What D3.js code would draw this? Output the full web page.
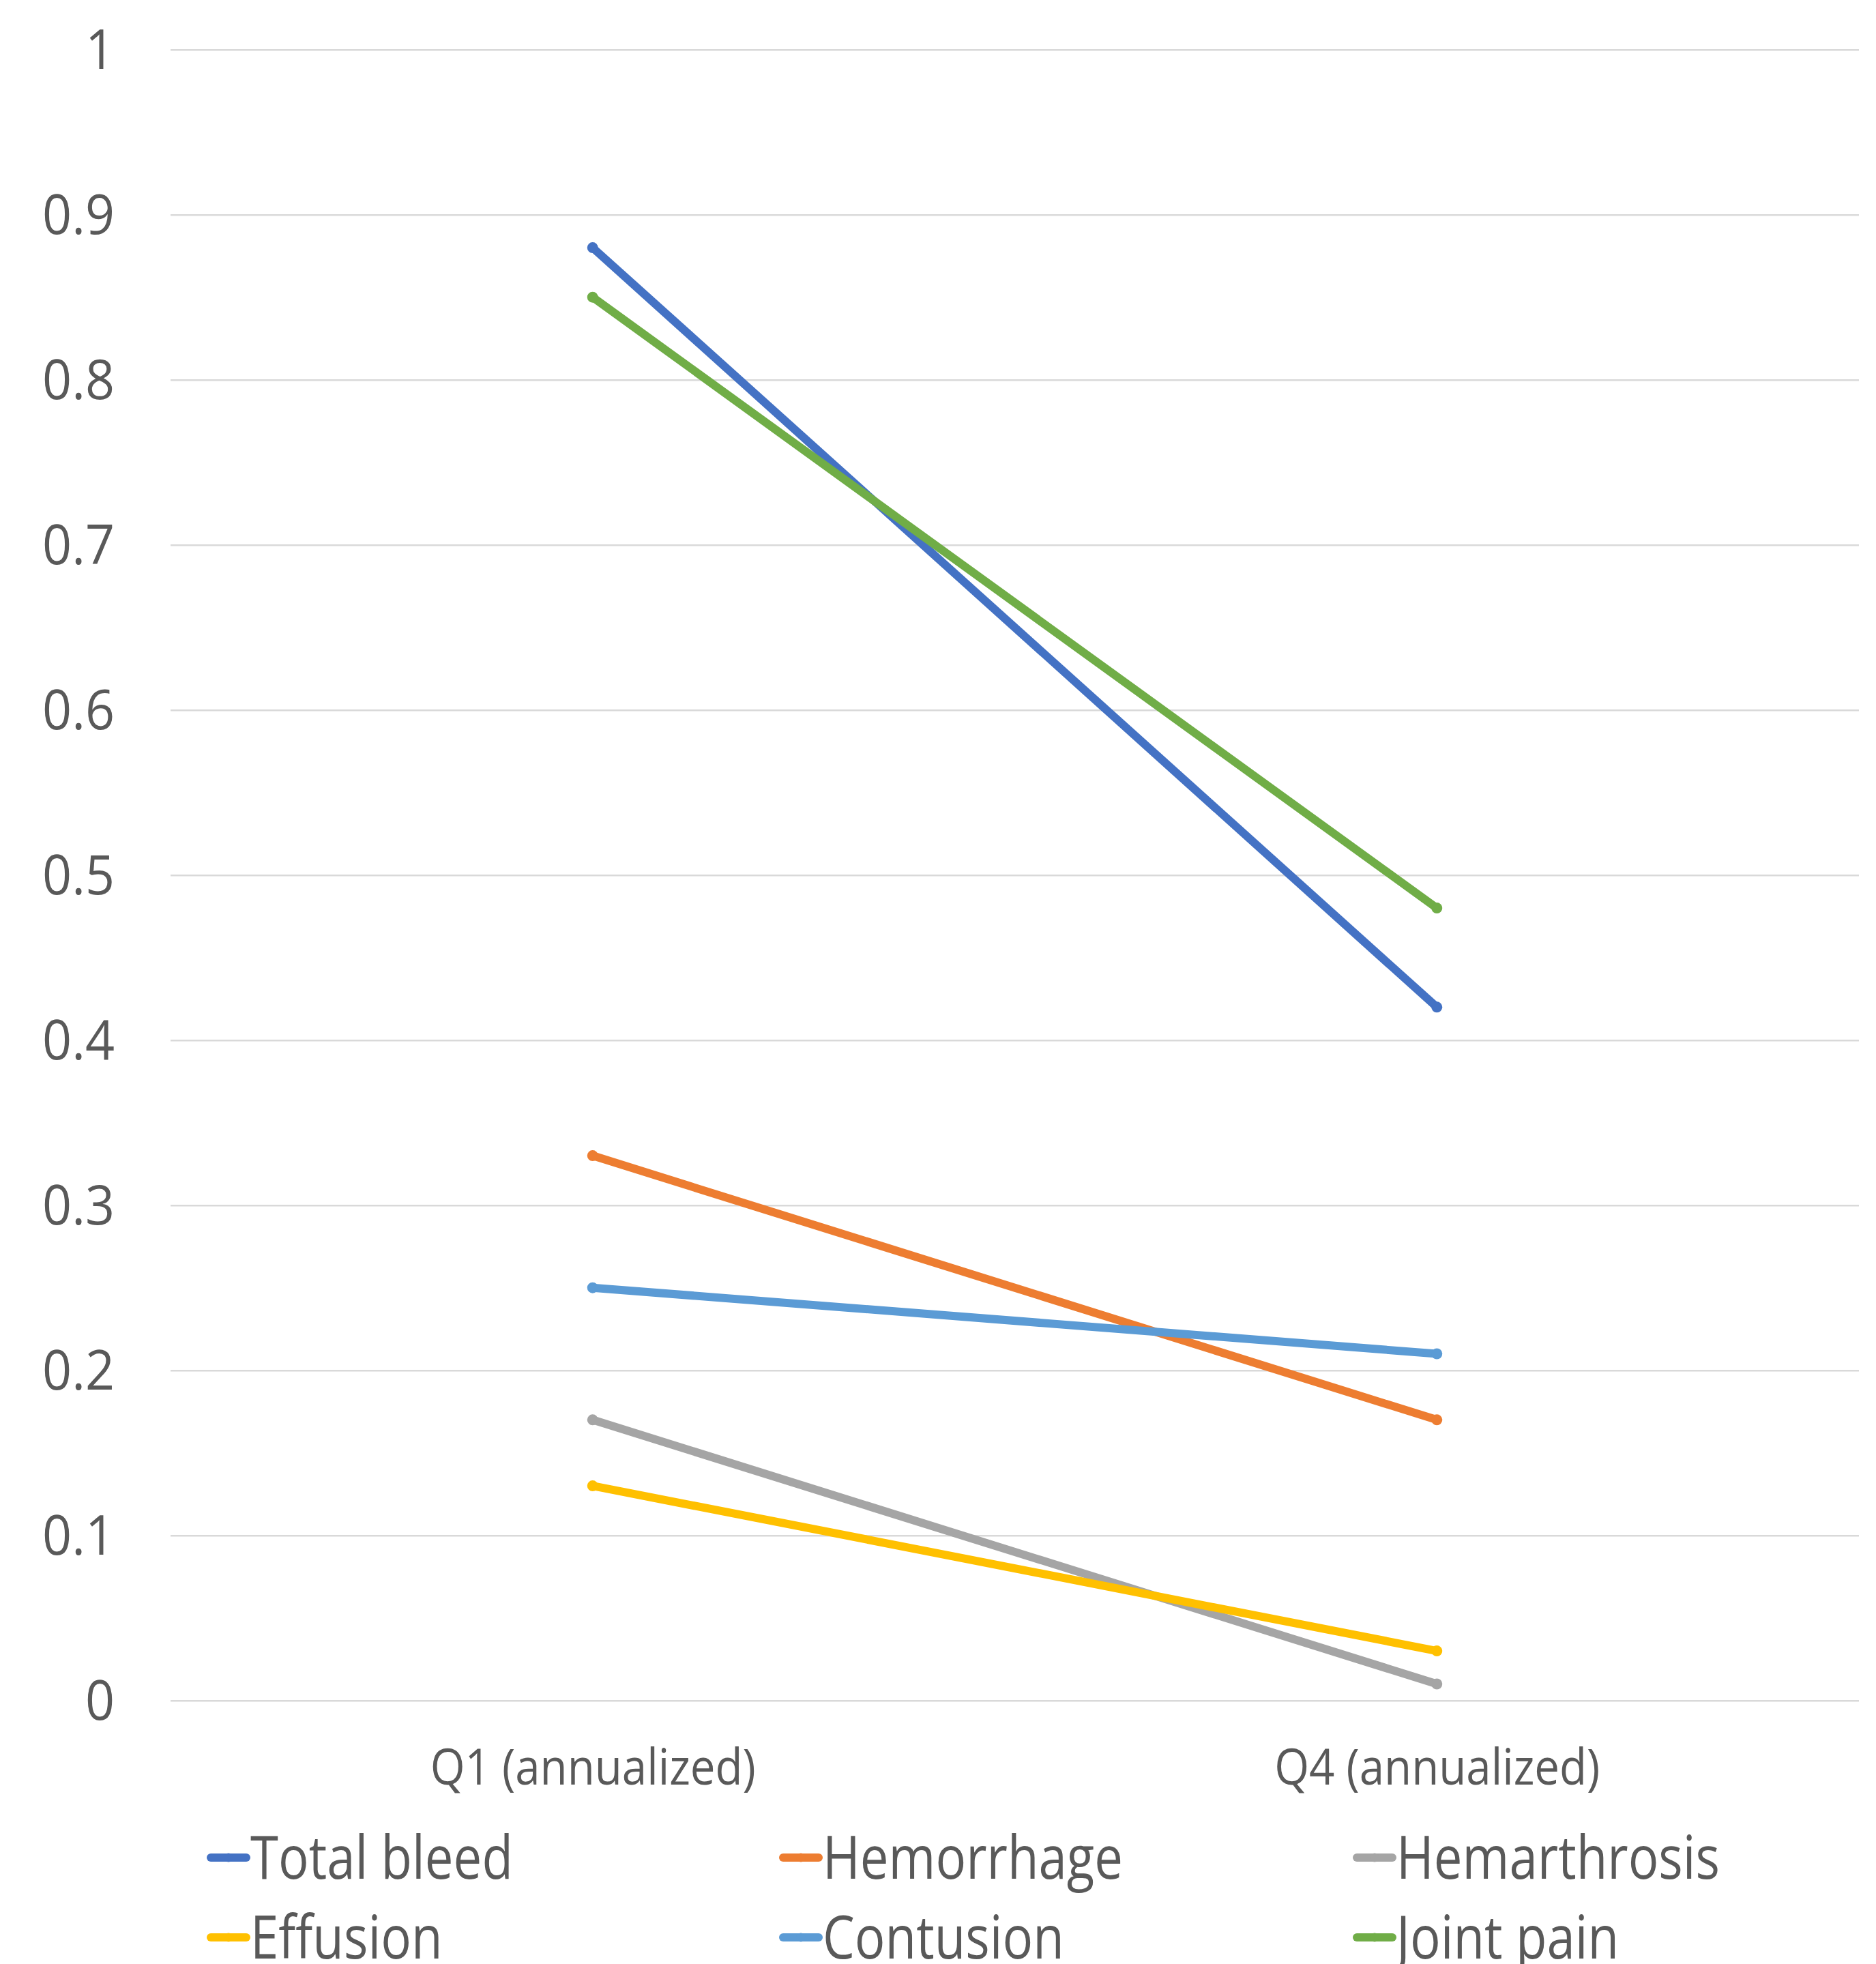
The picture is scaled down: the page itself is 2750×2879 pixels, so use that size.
<!DOCTYPE html>
<html>
<head>
<meta charset="utf-8">
<script src="https://cdn.jsdelivr.net/npm/d3@7"></script>
<style>
  html, body { margin: 0; padding: 0; background: #ffffff; }
  svg { display: block; }
</style>
</head>
<body>
<script>
// ---------------- DATA ----------------
const categories = ["Q1 (annualized)", "Q4 (annualized)"];
const seriesNames = ["Total bleed", "Hemorrhage", "Hemarthrosis", "Effusion", "Contusion", "Joint pain"];
const totalBleed   = [0.88, 0.42];
const hemorrhage   = [0.33, 0.17];
const hemarthrosis = [0.17, 0.01];
const effusion     = [0.13, 0.03];
const contusion    = [0.25, 0.21];
const jointPain    = [0.85, 0.48];
const yTickValues  = [0, 0.1, 0.2, 0.3, 0.4, 0.5, 0.6, 0.7, 0.8, 0.9, 1];
const yTickLabels  = ["0", "0.1", "0.2", "0.3", "0.4", "0.5", "0.6", "0.7", "0.8", "0.9", "1"];

// ---------------- STYLE ----------------
const colors = ["#4472C4", "#ED7D31", "#A5A5A5", "#FFC000", "#5B9BD5", "#70AD47"];
const W = 2750, H = 2879;
const plot = { left: 250, right: 2725, top: 72.7, bottom: 2492.7 };
const textColor = "#595959";
const fontFamily = "'Open Sans', 'Liberation Sans', sans-serif";

const series = seriesNames.map((name, i) => ({
  name,
  values: [totalBleed, hemorrhage, hemarthrosis, effusion, contusion, jointPain][i],
  color: colors[i]
}));

const svg = d3.select("body").append("svg")
  .attr("width", W).attr("height", H)
  .attr("viewBox", `0 0 ${W} ${H}`);

svg.append("rect").attr("width", W).attr("height", H).attr("fill", "#ffffff");

const x = d3.scalePoint().domain(categories).range([plot.left, plot.right]).padding(0.5);
const y = d3.scaleLinear().domain([0, 1]).range([plot.bottom, plot.top]);

function condense(sel, factor) {
  sel.each(function () {
    const w = this.getComputedTextLength();
    d3.select(this).attr("textLength", w * factor).attr("lengthAdjust", "spacingAndGlyphs");
  });
}

// Y axis with gridlines
const yAxis = d3.axisLeft(y)
  .tickValues(yTickValues)
  .tickFormat((d, i) => yTickLabels[i])
  .tickSize(-(plot.right - plot.left))
  .tickPadding(82);

const gy = svg.append("g").attr("transform", `translate(${plot.left},0)`).call(yAxis);
gy.select(".domain").remove();
gy.selectAll(".tick line").attr("stroke", "#D9D9D9").attr("stroke-width", 2.5);
gy.selectAll(".tick text")
  .attr("fill", textColor)
  .attr("font-family", fontFamily)
  .attr("font-size", 81)
  .attr("dy", null)
  .attr("y", 28);
condense(gy.selectAll(".tick text"), 0.93);

// X axis labels
const xAxis = d3.axisBottom(x).tickSize(0).tickPadding(123);
const gx = svg.append("g").attr("transform", `translate(0,${plot.bottom})`).call(xAxis);
gx.select(".domain").remove();
gx.selectAll(".tick text")
  .attr("fill", textColor)
  .attr("font-family", fontFamily)
  .attr("font-size", 74)
  .attr("dy", null)
  .attr("y", 123);
gx.selectAll(".tick text").each(function () {
  d3.select(this).attr("textLength", 477).attr("lengthAdjust", "spacingAndGlyphs");
});

// Lines
const line = d3.line()
  .x((d, i) => x(categories[i]))
  .y(d => y(d));

const gs = svg.append("g").selectAll("g.series").data(series).join("g").attr("class", "series");
gs.append("path")
  .attr("d", d => line(d.values))
  .attr("fill", "none")
  .attr("stroke", d => d.color)
  .attr("stroke-width", 12)
  .attr("stroke-linecap", "round");
gs.selectAll("circle")
  .data(d => d.values.map((v, i) => ({ v, i, color: d.color })))
  .join("circle")
  .attr("cx", d => x(categories[d.i]))
  .attr("cy", d => y(d.v))
  .attr("r", 8)
  .attr("fill", d => d.color);

// Legend
const legendCols = [303, 1142, 1983];
const legendRows = [2723, 2840];
const lg = svg.append("g").selectAll("g.leg").data(series).join("g")
  .attr("class", "leg")
  .attr("transform", (d, i) => `translate(${legendCols[i % 3]},${legendRows[Math.floor(i / 3)]})`);
lg.append("line")
  .attr("x1", 6).attr("x2", 58).attr("y1", 0).attr("y2", 0)
  .attr("stroke", d => d.color).attr("stroke-width", 12).attr("stroke-linecap", "round");
lg.append("circle").attr("cx", 32).attr("cy", 0).attr("r", 6.5).attr("fill", d => d.color);
const lt = lg.append("text")
  .attr("x", 64)
  .attr("y", 31)
  .attr("fill", textColor)
  .attr("font-family", fontFamily)
  .attr("font-size", 88)
  .text(d => d.name);
condense(lt, 0.845);
</script>
</body>
</html>
